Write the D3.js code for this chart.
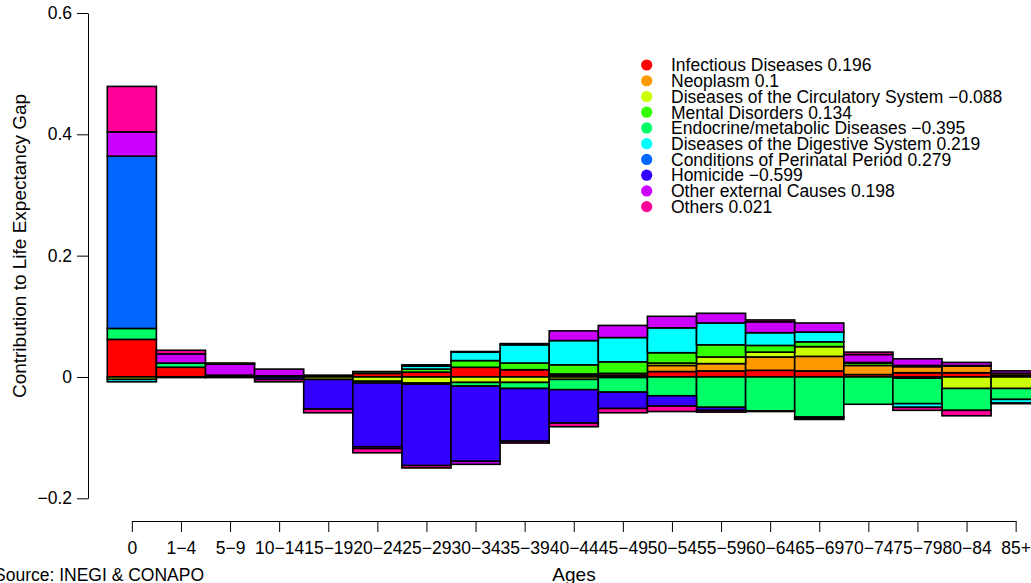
<!DOCTYPE html>
<html>
<head>
<meta charset="utf-8">
<script src="https://cdn.jsdelivr.net/npm/d3@7"></script>
<style>
    body { margin: 0; background: white; }
    svg { font-family: "Liberation Sans", Arial, sans-serif; }
    .axis path, .axis line { stroke: black; stroke-width: 1px; fill: none; }
    .axis text { font-size: 17.5px; fill: black; }
    rect.seg { stroke: black; stroke-width: 1.6px; }
    .legend text { font-size: 17.5px; }
</style>
</head>
<body>
<script>
// age groups
const ages = ["0", "1\u22124", "5\u22129", "10\u221214", "15\u221219", "20\u221224", "25\u221229", "30\u221234",
    "35\u221239", "40\u221244", "45\u221249", "50\u221254", "55\u221259", "60\u221264", "65\u221269",
    "70\u221274", "75\u221279", "80\u221284", "85+"];

// contribution of each cause, one value per age group
const infectious  = [0.062, 0.016, 0.003, 0.002, 0.002, 0.006, 0.008, 0.016, 0.012, 0.003, 0.003, 0.009, 0.010, 0.011, 0.010, 0.004, 0.007, 0.007, 0.003];
const neoplasm    = [0, 0, 0, 0, 0, 0, 0, 0, 0, 0.002, 0.003, 0.010, 0.012, 0.022, 0.024, 0.015, 0.010, 0.011, 0.003];
const circulatory = [-0.004, -0.001, 0, 0, -0.004, -0.007, -0.010, -0.009, -0.009, -0.004, -0.001, 0.004, 0.011, 0.008, 0.016, 0, -0.002, -0.019, -0.019];
const mental      = [0, 0, 0, 0, 0.001, 0.003, 0.005, 0.011, 0.011, 0.015, 0.019, 0.017, 0.020, 0.011, 0.008, 0.004, 0.002, 0.001, 0];
const endocrine   = [0.018, 0.007, 0, 0, 0, -0.003, -0.002, -0.006, -0.010, -0.017, -0.024, -0.031, -0.050, -0.056, -0.066, -0.045, -0.042, -0.036, -0.018];
const digestive   = [-0.004, 0, 0, 0, 0, 0, 0.005, 0.014, 0.030, 0.040, 0.040, 0.041, 0.036, 0.021, 0.016, 0.001, -0.006, 0, -0.006];
const perinatal   = [0.284, 0, 0, 0, 0, 0, 0, 0, 0, 0, 0, 0, 0, 0, 0, 0, 0, 0, 0];
const homicide    = [0, 0, -0.001, -0.004, -0.049, -0.105, -0.134, -0.124, -0.087, -0.055, -0.027, -0.017, -0.005, -0.001, -0.002, 0, 0, 0, 0];
const otherExt    = [0.040, 0.015, 0.018, 0.011, 0, -0.003, 0.002, -0.005, 0.002, 0.016, 0.020, 0.019, 0.016, 0.018, 0.015, 0.013, 0.011, 0.005, 0.004];
const others      = [0.075, 0.006, 0.002, -0.004, -0.006, -0.007, -0.004, 0.001, -0.003, -0.006, -0.007, -0.009, -0.003, 0.003, -0.002, 0.004, -0.005, -0.009, -0.001];

const causes = ["Infectious Diseases", "Neoplasm", "Diseases of the Circulatory System", "Mental Disorders",
    "Endocrine/metabolic Diseases", "Diseases of the Digestive System", "Conditions of Perinatal Period",
    "Homicide", "Other external Causes", "Others"];
const totals = ["0.196", "0.1", "\u22120.088", "0.134", "\u22120.395", "0.219", "0.279", "\u22120.599", "0.198", "0.021"];
const colors = ["#FF0000", "#FF9900", "#CCFF00", "#33FF00", "#00FF66", "#00FFFF", "#0066FF", "#3300FF", "#CC00FF", "#FF0099"];
const series = [infectious, neoplasm, circulatory, mental, endocrine, digestive, perinatal, homicide, otherExt, others];

const yTicks = [-0.2, 0, 0.2, 0.4, 0.6];

let width = 1031, height = 583;

let svg = d3.select("body").append("svg")
    .attr("width", width)
    .attr("height", height);

svg.append("rect").attr("width", width).attr("height", height).attr("fill", "white");

let x = d3.scaleBand()
    .domain(ages)
    .range([107.3, 107.3 + 19 * 49.1])
    .padding(0);

let y = d3.scaleLinear()
    .domain([-0.2, 0.6])
    .range([498.3, 13]);

// rows for the stack
let rows = ages.map((a, i) => {
    let r = { age: a };
    causes.forEach((c, k) => r[c] = series[k][i]);
    return r;
});

let stacked = d3.stack()
    .keys(causes)
    .offset(d3.stackOffsetDiverging)(rows);

svg.append("g")
    .selectAll("g")
    .data(stacked)
    .join("g")
    .attr("fill", (d, k) => colors[k])
    .selectAll("rect")
    .data(d => d.filter(p => p[1] !== p[0]))
    .join("rect")
    .attr("class", "seg")
    .attr("x", d => x(d.data.age))
    .attr("width", x.bandwidth())
    .attr("y", d => y(Math.max(d[0], d[1])))
    .attr("height", d => Math.abs(y(d[0]) - y(d[1])));

// y axis
let yAxis = d3.axisLeft(y)
    .tickValues(yTicks)
    .tickFormat(d => d === 0 ? "0" : d3.format(".1f")(d))
    .tickSize(11)
    .tickSizeOuter(0)
    .tickPadding(5);

svg.append("g")
    .attr("class", "y axis")
    .attr("transform", "translate(88,0)")
    .call(yAxis);

// x axis from first to last bar centre
let xp = d3.scalePoint()
    .domain(ages)
    .range([x(ages[0]) + x.bandwidth() / 2, x(ages[ages.length - 1]) + x.bandwidth() / 2]);

let xAxis = d3.axisBottom(xp)
    .tickSize(11)
    .tickSizeOuter(0)
    .tickPadding(10);

svg.append("g")
    .attr("class", "x axis")
    .attr("transform", "translate(0,521)")
    .call(xAxis);

svg.selectAll(".axis .domain").attr("stroke", "black");

// axis titles
svg.append("text")
    .text("Contribution to Life Expectancy Gap")
    .attr("transform", "translate(26,246) rotate(-90)")
    .attr("text-anchor", "middle")
    .attr("font-size", "19px");

svg.append("text")
    .text("Ages")
    .attr("x", 574)
    .attr("y", 581)
    .attr("text-anchor", "middle")
    .attr("font-size", "19px");

svg.append("text")
    .text("Source: INEGI & CONAPO")
    .attr("x", -6)
    .attr("y", 581)
    .attr("font-size", "17.5px");

// legend
let legend = svg.append("g").attr("class", "legend");
let rowH = 15.74;
causes.forEach((c, k) => {
    legend.append("circle")
        .attr("cx", 646.7)
        .attr("cy", 65 + k * rowH)
        .attr("r", 5.6)
        .attr("fill", colors[k]);
    legend.append("text")
        .attr("x", 671)
        .attr("y", 65 + k * rowH)
        .attr("dy", "0.36em")
        .text(c + " " + totals[k]);
});
</script>
</body>
</html>
